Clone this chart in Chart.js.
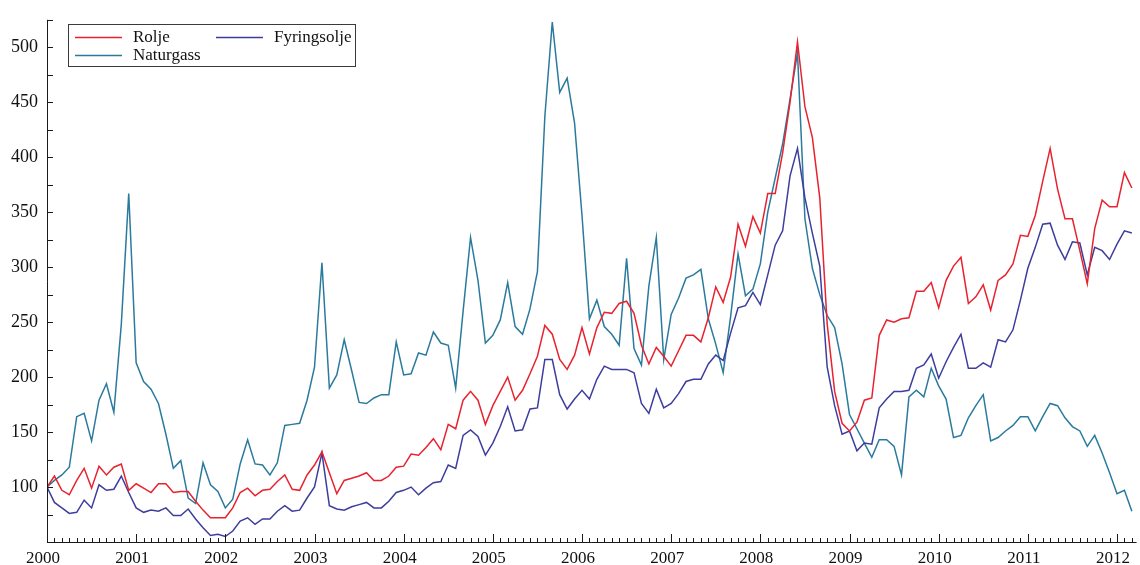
<!DOCTYPE html>
<html>
<head>
<meta charset="utf-8">
<script src="https://cdn.jsdelivr.net/npm/chart.js@4.4.1/dist/chart.umd.min.js"></script>
<style>
  html, body { margin: 0; padding: 0; background: #ffffff; }
  #wrap { position: relative; width: 1140px; height: 565px; }
</style>
</head>
<body>
<div id="wrap"><canvas id="chart"></canvas></div>
<script>
// Monthly price indices (Jan 2000 = 100), January 2000 – March 2012
const START_YEAR = 2000;

const rolje = [
  100, 110, 97, 93, 106, 117, 99, 119, 111, 118, 121, 97,      // 2000
  103, 99, 95, 103, 103, 95, 96, 96, 87, 79, 72, 72,           // 2001
  72, 81, 95, 99, 92, 97, 98, 105, 111, 98, 97, 111,           // 2002
  120, 132, 113, 94, 106, 108, 110, 113, 106, 106, 110, 118,   // 2003
  119, 130, 129, 136, 144, 134, 157, 153, 179, 187, 179, 157,  // 2004
  174, 187, 200, 179, 188, 203, 219, 247, 239, 216, 207, 220,  // 2005
  245, 221, 245, 259, 258, 267, 269, 258, 229, 212, 227, 219,  // 2006
  210, 224, 238, 238, 232, 254, 282, 268, 291, 339, 319, 346,  // 2007
  331, 367, 367, 404, 450, 505, 446, 418, 363, 248, 187, 158,  // 2008
  151, 159, 179, 181, 238, 252, 250, 253, 254, 278, 278, 286,  // 2009
  263, 288, 301, 309, 267, 273, 284, 261, 288, 293, 303, 329,  // 2010
  328, 347, 378, 408, 371, 344, 344, 315, 285, 335, 361, 355,  // 2011
  355, 386, 372                                                // 2012
];

const fyringsolje = [
  100, 86, 81, 76, 77, 88, 81, 102, 97, 98, 110, 95,
  81, 77, 79, 78, 81, 74, 74, 80, 71, 63, 56, 57,
  55, 60, 69, 72, 66, 71, 71, 78, 83, 78, 79, 90,
  100, 131, 83, 80, 79, 82, 84, 86, 81, 81, 87, 95,
  97, 100, 93, 99, 104, 105, 120, 117, 147, 152, 146, 129,
  140, 155, 173, 151, 152, 171, 172, 216, 216, 184, 171, 180,
  188, 180, 198, 210, 207, 207, 207, 204, 176, 167, 189, 172,
  176, 185, 196, 198, 198, 212, 220, 215, 240, 263, 265, 277,
  266, 293, 320, 333, 383, 408, 363, 331, 301, 209, 174, 148,
  151, 133, 140, 139, 172, 180, 187, 187, 188, 208, 211, 221,
  199, 214, 227, 239, 208, 208, 213, 209, 234, 232, 243, 270,
  299, 318, 339, 340, 320, 307, 323, 322, 293, 318, 315, 307,
  321, 333, 331
];

const naturgass = [
  100, 106, 111, 118, 164, 167, 142, 179, 194, 168, 248, 367,
  213, 196, 189, 176, 148, 117, 124, 90, 85, 122, 102, 96,
  81, 89, 121, 143, 121, 120, 111, 122, 156, 157, 158, 179,
  209, 304, 190, 202, 234, 206, 177, 176, 181, 184, 184, 232,
  202, 203, 222, 220, 241, 231, 229, 190, 260, 327, 288, 231,
  238, 252, 286, 246, 239, 262, 296, 437, 523, 459, 472, 431,
  347, 253, 270, 246, 239, 229, 308, 226, 211, 283, 327, 216,
  257, 272, 290, 293, 298, 253, 230, 204, 255, 312, 274, 280,
  303, 350, 381, 412, 453, 495, 344, 299, 275, 256, 245, 212,
  166, 153, 140, 127, 143, 143, 137, 111, 182, 188, 182, 208,
  192, 180, 145, 147, 163, 174, 184, 142, 145, 151, 156, 164,
  164, 151, 164, 176, 174, 163, 155, 151, 137, 147, 131, 113,
  94, 97, 78
];

const yearTicks = [2000, 2001, 2002, 2003, 2004, 2005, 2006, 2007, 2008, 2009, 2010, 2011, 2012];
const valueTicks = [100, 150, 200, 250, 300, 350, 400, 450, 500];

const FONT = '"Liberation Serif", "Times New Roman", serif';
const COLORS = { rolje: '#e8222e', fyringsolje: '#3d3d9e', naturgass: '#2a7a9e' };

// month index -> decimal year on the time axis
const toPoints = arr => arr.map((v, i) => ({ x: START_YEAR + i / 12, y: v }));

// Axis lines with inward tick marks: monthly on x (years longer), every 25 on y
const axisTicks = {
  id: 'axisTicks',
  afterDatasetsDraw(chart) {
    const { ctx, chartArea, scales } = chart;
    const { left, right, top, bottom } = chartArea;
    const x = scales.x, y = scales.y;
    ctx.save();
    ctx.strokeStyle = '#1a1a1a';
    ctx.lineWidth = 1;
    ctx.beginPath();
    ctx.moveTo(left + 0.5, top);
    ctx.lineTo(left + 0.5, bottom + 0.5);
    ctx.moveTo(left, bottom + 0.5);
    ctx.lineTo(right, bottom + 0.5);
    for (let v = y.min + 25; v <= y.max + 0.001; v += 25) {
      const py = Math.round(y.getPixelForValue(v)) + 0.5;
      ctx.moveTo(left, py);
      ctx.lineTo(left + 6, py);
    }
    for (let m = 1; START_YEAR + m / 12 <= x.max + 1e-6; m++) {
      const px = Math.round(x.getPixelForValue(START_YEAR + m / 12)) + 0.5;
      const len = (m % 12 === 0) ? 8 : 4;
      ctx.moveTo(px, bottom);
      ctx.lineTo(px, bottom - len);
    }
    ctx.stroke();
    ctx.restore();
  }
};

// Boxed two-column legend in the upper left corner
const boxedLegend = {
  id: 'boxedLegend',
  afterDraw(chart) {
    const { ctx } = chart;
    const ds = chart.data.datasets;
    const slots = [
      { i: 0, x: 75, y: 37 },
      { i: 1, x: 216, y: 37 },
      { i: 2, x: 75, y: 55 }
    ];
    ctx.save();
    ctx.fillStyle = '#ffffff';
    ctx.fillRect(68.5, 24.5, 287, 42);
    ctx.strokeStyle = '#3a3a3a';
    ctx.lineWidth = 1;
    ctx.strokeRect(68.5, 24.5, 287, 42);
    ctx.font = '17px ' + FONT;
    ctx.textBaseline = 'middle';
    ctx.textAlign = 'left';
    slots.forEach(s => {
      const d = ds[s.i];
      ctx.strokeStyle = d.borderColor;
      ctx.lineWidth = 1.3;
      ctx.beginPath();
      ctx.moveTo(s.x, s.y + 0.5);
      ctx.lineTo(s.x + 47, s.y + 0.5);
      ctx.stroke();
      ctx.fillStyle = '#111111';
      ctx.fillText(d.label, s.x + 58, s.y + 1);
    });
    ctx.restore();
  }
};

const lineStyle = color => ({
  borderColor: color,
  backgroundColor: color,
  borderWidth: 1.5,
  pointRadius: 0,
  tension: 0,
  fill: false
});

new Chart(document.getElementById('chart'), {
  type: 'line',
  data: {
    datasets: [
      { label: 'Rolje', data: toPoints(rolje), ...lineStyle(COLORS.rolje) },
      { label: 'Fyringsolje', data: toPoints(fyringsolje), ...lineStyle(COLORS.fyringsolje) },
      { label: 'Naturgass', data: toPoints(naturgass), ...lineStyle(COLORS.naturgass) }
    ]
  },
  options: {
    responsive: true,
    maintainAspectRatio: false,
    animation: false,
    layout: { padding: { top: 13, right: 0, bottom: 0, left: 0 } },
    plugins: { legend: { display: false }, tooltip: { enabled: false } },
    scales: {
      x: {
        type: 'linear',
        min: 2000,
        max: 2012.22,
        afterFit: s => { s.height = 23; },
        afterBuildTicks: s => { s.ticks = yearTicks.map(v => ({ value: v })); },
        grid: { display: false, drawTicks: false },
        border: { display: false },
        ticks: {
          autoSkip: false,
          maxRotation: 0,
          padding: 6,
          labelOffset: -4,
          color: '#111111',
          font: { family: FONT, size: 17 },
          callback: v => String(v)
        }
      },
      y: {
        min: 50,
        max: 525,
        afterFit: s => { s.width = 47; },
        afterBuildTicks: s => { s.ticks = valueTicks.map(v => ({ value: v })); },
        grid: { display: false, drawTicks: false },
        border: { display: false },
        ticks: {
          padding: 9,
          color: '#111111',
          font: { family: FONT, size: 18 },
          callback: v => String(v)
        }
      }
    }
  },
  plugins: [axisTicks, boxedLegend]
});
</script>
</body>
</html>
